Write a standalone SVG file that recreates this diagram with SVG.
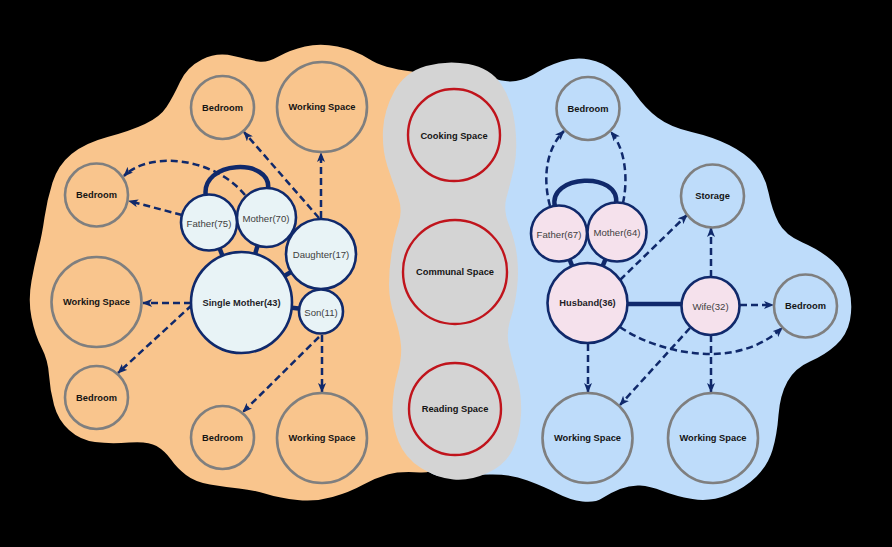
<svg xmlns="http://www.w3.org/2000/svg" width="892" height="547" viewBox="0 0 892 547">
<style>
.sp{fill:none;stroke:#7f7f7f;stroke-width:2.6}
.cm{fill:none;stroke:#c0141c;stroke-width:2.4}
.fl{fill:#e8f3f6;stroke:#10296b;stroke-width:2.6}
.fr{fill:#f5e1ec;stroke:#10296b;stroke-width:2.6}
.t{font-family:"Liberation Sans",Arial,sans-serif;font-size:9.3px;font-weight:bold;fill:#141414;text-anchor:middle;dominant-baseline:central}
.p{font-family:"Liberation Sans",Arial,sans-serif;font-size:9.6px;fill:#404040;text-anchor:middle;dominant-baseline:central}
.pb{font-family:"Liberation Sans",Arial,sans-serif;font-size:9.3px;font-weight:bold;fill:#1e1e28;text-anchor:middle;dominant-baseline:central}
.d{fill:none;stroke:#10296b;stroke-width:2.5;stroke-dasharray:7 4;marker-end:url(#ah)}
.s{fill:none;stroke:#10296b;stroke-width:4.5}
</style>
<defs>
<marker id="ah" viewBox="0 0 10 8" refX="9" refY="4" markerWidth="10" markerHeight="8" markerUnits="userSpaceOnUse" orient="auto">
<path d="M0,0 L10,4 L0,8 L2.5,4 z" fill="#10296b"/>
</marker>
</defs>
<rect x="0" y="0" width="892" height="547" fill="#000"/>
<g id="zones">
<path id="zone-left" fill="#f9c58d" d="M180,82 Q187,67 202,59.5 Q217,52 233.5,56 Q250,60 258.5,61.5 Q267,63 278.5,56.5 Q290,50 305,46.5 Q320,43 337.5,46.5 Q355,50 369,59 Q383,68 411.5,71.5 Q440,75 452.5,112.5 Q465,150 465,285 Q465,420 452.5,447 Q440,474 420,472.5 Q400,471 387.5,474.5 Q375,478 362.5,485 Q350,492 332.5,497 Q315,502 297.5,500 Q280,498 266.5,494 Q253,490 239,488.5 Q225,487 210,484.5 Q195,482 186,475 Q177,468 171,459.5 Q165,451 156.5,446 Q148,441 129,442.5 Q110,444 95,442 Q80,440 69,430 Q58,420 54,405 Q50,390 49,375 Q48,360 41.5,347.5 Q35,335 31.5,317.5 Q28,300 31.5,281 Q35,262 38.5,248.5 Q42,235 44.5,217.5 Q47,200 52.5,182.5 Q58,165 71.5,154 Q85,143 107.5,137 Q130,131 145,124 Q160,117 166.5,107 Q173,97 180,82 Z"/>
<path id="zone-right" fill="#bedcfa" d="M446.5,69 Q473,70 489,76.5 Q505,83 516,81 Q527,79 537,72.5 Q547,66 561,61.5 Q575,57 589,59.5 Q603,62 615,72 Q627,82 636,95 Q645,108 657.5,117.5 Q670,127 691.5,132 Q713,137 729,145 Q745,153 755,164 Q765,175 768.5,192.5 Q772,210 778.5,222.5 Q785,235 802.5,242.5 Q820,250 832.5,261 Q845,272 849,288.5 Q853,305 850,320 Q847,335 836,345 Q825,355 810,361.5 Q795,368 787.5,381.5 Q780,395 778.5,415 Q777,435 772.5,450 Q768,465 756.5,476.5 Q745,488 727.5,495 Q710,502 692.5,499 Q675,496 662.5,491 Q650,486 640,485.5 Q630,485 620,489 Q610,493 602.5,498 Q595,503 582.5,501.5 Q570,500 557.5,493.5 Q545,487 527.5,480.5 Q510,474 490,474.5 Q470,475 445,476.5 Q420,478 415,439 Q410,400 410,275 Q410,150 415,109 Q420,68 446.5,69 Z"/>
<path id="zone-shared" fill="#d4d4d4" d="M468.5,64 Q490,68 501,84 Q512,100 515,125 Q518,150 514,167.5 Q510,185 506.5,197.5 Q503,210 509,225 Q515,240 517,256 Q519,272 517,288.5 Q515,305 510.5,319 Q506,333 509,346.5 Q512,360 517,377.5 Q522,395 521,415 Q520,435 512.5,450 Q505,465 487.5,473 Q470,481 453.5,479.5 Q437,478 421,468 Q405,458 398.5,441.5 Q392,425 392.5,407.5 Q393,390 397.5,374 Q402,358 401,345.5 Q400,333 394.5,316.5 Q389,300 389,285 Q389,270 391.5,253.5 Q394,237 398.5,223.5 Q403,210 398,196.5 Q393,183 387.5,166.5 Q382,150 383,130 Q384,110 394.5,91 Q405,72 426,66 Q447,60 468.5,64 Z"/>
</g>
<g id="connectors">
<line class="s" x1="209" y1="222" x2="241" y2="302"/>
<line class="s" x1="266" y1="217" x2="241" y2="302"/>
<line class="s" x1="321" y1="254" x2="241" y2="302"/>
<line class="s" x1="321" y1="311" x2="241" y2="302"/>
<path class="s" d="M206,197 C199,160 273,157 268,190"/>
<line class="s" x1="559" y1="233" x2="587" y2="303"/>
<line class="s" x1="617" y1="232" x2="587" y2="303"/>
<line class="s" x1="627" y1="304" x2="682" y2="304"/>
<path class="s" d="M555,207 C547,174 621,171 616,204"/>
<path class="d" d="M245,195 C215,158 150,150 124,176"/>
<line class="d" x1="182" y1="215" x2="129" y2="201"/>
<line class="d" x1="319" y1="218" x2="244" y2="132"/>
<line class="d" x1="321" y1="218" x2="321" y2="153"/>
<line class="d" x1="191" y1="303" x2="143" y2="303"/>
<line class="d" x1="192" y1="305" x2="118" y2="373"/>
<line class="d" x1="322" y1="335" x2="322" y2="392"/>
<line class="d" x1="319" y1="337" x2="243" y2="412"/>
<path class="d" d="M550,206 C543,180 545,150 564,131"/>
<path class="d" d="M623,203 C628,180 626,150 611,132"/>
<line class="d" x1="620" y1="280" x2="687" y2="215"/>
<line class="d" x1="711" y1="277" x2="711" y2="228"/>
<line class="d" x1="740" y1="305" x2="773" y2="305"/>
<path class="d" d="M620,327 C656,352 735,372 782,328"/>
<line class="d" x1="588" y1="344" x2="588" y2="392"/>
<line class="d" x1="690" y1="328" x2="620" y2="405"/>
<line class="d" x1="711" y1="335" x2="711" y2="392"/>
</g>
<g id="n-bedroom-l1"><circle class="sp" cx="222.5" cy="107.5" r="31.5"/><text class="t" x="222.5" y="107.5">Bedroom</text></g>
<g id="n-working-l1"><circle class="sp" cx="322" cy="107" r="45"/><text class="t" x="322" y="107">Working Space</text></g>
<g id="n-bedroom-l2"><circle class="sp" cx="96.5" cy="195" r="31.5"/><text class="t" x="96.5" y="195">Bedroom</text></g>
<g id="n-working-l2"><circle class="sp" cx="96.5" cy="302" r="45"/><text class="t" x="96.5" y="302">Working Space</text></g>
<g id="n-bedroom-l3"><circle class="sp" cx="96.5" cy="397.5" r="31.5"/><text class="t" x="96.5" y="397.5">Bedroom</text></g>
<g id="n-bedroom-l4"><circle class="sp" cx="222.5" cy="437.5" r="31.5"/><text class="t" x="222.5" y="437.5">Bedroom</text></g>
<g id="n-working-l3"><circle class="sp" cx="322" cy="438" r="45"/><text class="t" x="322" y="438">Working Space</text></g>
<g id="n-father-75"><circle class="fl" cx="209" cy="222.5" r="28"/><text class="p" x="209" y="223">Father(75)</text></g>
<g id="n-mother-70"><circle class="fl" cx="266.5" cy="217.5" r="29.5"/><text class="p" x="266" y="218">Mother(70)</text></g>
<g id="n-daughter-17"><circle class="fl" cx="321" cy="254" r="35"/><text class="p" x="321" y="254">Daughter(17)</text></g>
<g id="n-single-mother-43"><circle class="fl" cx="241.5" cy="302.5" r="50.5"/><text class="pb" x="241.5" y="303">Single Mother(43)</text></g>
<g id="n-son-11"><circle class="fl" cx="321" cy="311.5" r="22"/><text class="p" x="321" y="312">Son(11)</text></g>
<g id="n-cooking"><circle class="cm" cx="454" cy="135" r="46"/><text class="t" x="454" y="136">Cooking Space</text></g>
<g id="n-communal"><circle class="cm" cx="455" cy="272" r="52"/><text class="t" x="455" y="272">Communal Space</text></g>
<g id="n-reading"><circle class="cm" cx="455" cy="409" r="46"/><text class="t" x="455" y="409">Reading Space</text></g>
<g id="n-bedroom-r1"><circle class="sp" cx="588" cy="108.5" r="31.5"/><text class="t" x="588" y="108.5">Bedroom</text></g>
<g id="n-storage"><circle class="sp" cx="712.5" cy="196" r="31.5"/><text class="t" x="712.5" y="196">Storage</text></g>
<g id="n-father-67"><circle class="fr" cx="559" cy="233.5" r="28"/><text class="p" x="559" y="234">Father(67)</text></g>
<g id="n-mother-64"><circle class="fr" cx="617" cy="232" r="29.5"/><text class="p" x="617" y="232">Mother(64)</text></g>
<g id="n-husband-36"><circle class="fr" cx="587.5" cy="303" r="40"/><text class="pb" x="587.5" y="303">Husband(36)</text></g>
<g id="n-wife-32"><circle class="fr" cx="710.5" cy="306" r="29"/><text class="p" x="710.5" y="306">Wife(32)</text></g>
<g id="n-bedroom-r2"><circle class="sp" cx="805.5" cy="306" r="31.5"/><text class="t" x="805.5" y="306">Bedroom</text></g>
<g id="n-working-r1"><circle class="sp" cx="587.5" cy="438" r="45"/><text class="t" x="587.5" y="438">Working Space</text></g>
<g id="n-working-r2"><circle class="sp" cx="713" cy="438" r="45"/><text class="t" x="713" y="438">Working Space</text></g>
</svg>
